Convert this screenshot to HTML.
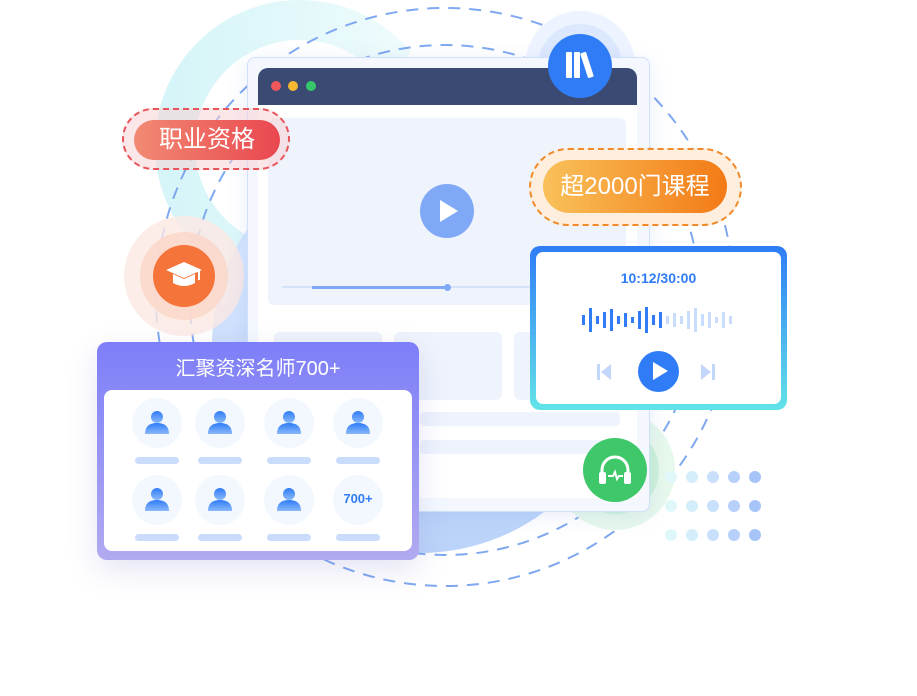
<!DOCTYPE html>
<html><head><meta charset="utf-8"><style>
body{margin:0;width:917px;height:696px;background:#fff;position:relative;overflow:hidden;font-family:"Liberation Sans","Noto Sans CJK SC",sans-serif}
.a{position:absolute}
.av{position:absolute;width:50px;height:50px;border-radius:50%;background:#f3f8ff}
.bar{position:absolute;width:44px;height:7px;border-radius:4px;background:#c9dcfb}
</style></head><body>
<svg class="a" style="left:0;top:0" width="917" height="696">
<defs>
<linearGradient id="bg" x1="0" y1="0" x2="0" y2="1"><stop offset="0" stop-color="#d9e8ff"/><stop offset="1" stop-color="#a9c8f8"/></linearGradient>
<linearGradient id="cy" x1="0" y1="0" x2="1" y2="0"><stop offset="0" stop-color="#d6f5f8"/><stop offset="1" stop-color="#eefbfc"/></linearGradient>
</defs>
<path d="M237 253 A125 125 0 1 1 396 65" stroke="url(#cy)" stroke-width="40" fill="none"/>
<circle cx="420" cy="345" r="208" fill="url(#bg)" opacity=".8"/>
<circle cx="445" cy="297" r="289" fill="none" stroke="#7fa8f0" stroke-width="2" stroke-dasharray="12 9"/>
<circle cx="445" cy="300" r="255" fill="none" stroke="#7fa8f0" stroke-width="2" stroke-dasharray="12 9"/>
<circle cx="184" cy="276" r="60" fill="#fde9e3" opacity=".8"/>
<circle cx="184" cy="276" r="44" fill="#fbd6c8" opacity=".8"/>
<circle cx="580" cy="66" r="55" fill="#eef4ff"/>
<circle cx="580" cy="66" r="42" fill="#dce8fe"/>
<circle cx="615" cy="470" r="60" fill="#e7f8ec"/>
<circle cx="615" cy="470" r="44" fill="#cdf1d8"/>
</svg>
<div class="a" style="left:247px;top:57px;width:401px;height:453px;background:#f4f8fe;border:1px solid #cfe0fa;border-radius:8px;box-shadow:0 4px 20px rgba(100,140,220,.15)"></div>
<div class="a" style="left:258px;top:68px;width:379px;height:430px;background:#fff;border-radius:10px 10px 0 0"></div>
<div class="a" style="left:258px;top:68px;width:379px;height:37px;background:#3a4a72;border-radius:10px 10px 0 0"></div>
<div class="a" style="left:271px;top:81px;width:10px;height:10px;border-radius:50%;background:#f0575a"></div>
<div class="a" style="left:288px;top:81px;width:10px;height:10px;border-radius:50%;background:#f5b830"></div>
<div class="a" style="left:306px;top:81px;width:10px;height:10px;border-radius:50%;background:#36c76b"></div>
<div class="a" style="left:268px;top:118px;width:358px;height:187px;background:#eef3fc;border-radius:6px"></div>
<div class="a" style="left:420px;top:184px;width:54px;height:54px;border-radius:50%;background:#7fa9f6"></div>
<div class="a" style="left:440px;top:200px;width:0;height:0;border-left:18px solid #fff;border-top:11px solid transparent;border-bottom:11px solid transparent"></div>
<div class="a" style="left:282px;top:286px;width:248px;height:2px;background:#d4e2fa"></div>
<div class="a" style="left:312px;top:286px;width:135px;height:3px;background:#7fa9f6"></div>
<div class="a" style="left:444px;top:284px;width:7px;height:7px;border-radius:50%;background:#7fa9f6"></div>
<div class="a" style="left:274px;top:332px;width:108px;height:68px;background:#eef3fc;border-radius:6px"></div>
<div class="a" style="left:394px;top:332px;width:108px;height:68px;background:#eef3fc;border-radius:6px"></div>
<div class="a" style="left:514px;top:332px;width:30px;height:68px;background:#eef3fc;border-radius:6px"></div>
<div class="a" style="left:420px;top:412px;width:200px;height:14px;background:#eef3fc;border-radius:4px"></div>
<div class="a" style="left:420px;top:440px;width:200px;height:14px;background:#eef3fc;border-radius:4px"></div>
<div class="a" style="left:122px;top:108px;width:168px;height:62px;border:2px dashed #e9545a;border-radius:32px;background:rgba(248,210,214,.55);box-sizing:border-box"></div>
<div class="a" style="left:134px;top:120px;width:146px;height:40px;border-radius:20px;background:linear-gradient(90deg,#f28a73,#e9474f);color:#fff;font-size:24px;line-height:40px;text-align:center">职业资格</div>
<div class="a" style="left:529px;top:148px;width:213px;height:78px;border:2px dashed #f08a2a;border-radius:40px;background:#fdeedd;box-sizing:border-box"></div>
<div class="a" style="left:543px;top:160px;width:184px;height:53px;border-radius:27px;background:linear-gradient(90deg,#f9c15a,#f37a16);color:#fff;font-size:24px;line-height:53px;text-align:center">超2000门课程</div>
<div class="a" style="left:548px;top:34px;width:64px;height:64px;border-radius:50%;background:#2f7cf6"></div>
<div class="a" style="left:566px;top:52px;width:6px;height:26px;background:#fff;border-radius:1px"></div>
<div class="a" style="left:574px;top:52px;width:6px;height:26px;background:#fff;border-radius:1px"></div>
<div class="a" style="left:584px;top:52px;width:6px;height:26px;background:#fff;border-radius:1px;transform:rotate(-18deg)"></div>
<div class="a" style="left:153px;top:245px;width:62px;height:62px;border-radius:50%;background:#f5743a"></div>
<svg class="a" style="left:164px;top:258px" width="40" height="34"><polygon points="20,4 38,12 20,20 2,12" fill="#fff"/><path d="M9 16 v9 q11 6 22 0 v-9 l-11 5z" fill="#fff"/><line x1="35" y1="12" x2="35" y2="22" stroke="#fff" stroke-width="2"/></svg>
<div class="a" style="left:583px;top:438px;width:64px;height:64px;border-radius:50%;background:#3ec86a"></div>
<svg class="a" style="left:596px;top:452px" width="38" height="36"><path d="M6 24 v-6 a13 13 0 0 1 26 0 v6" stroke="#fff" stroke-width="3" fill="none"/><rect x="3" y="20" width="7" height="12" rx="2" fill="#fff"/><rect x="28" y="20" width="7" height="12" rx="2" fill="#fff"/><path d="M12 24 h5 l2-4 l2 7 l2-3 h4" stroke="#fff" stroke-width="2" fill="none"/></svg>
<div class="a" style="left:97px;top:342px;width:322px;height:218px;border-radius:10px;background:linear-gradient(180deg,#7d7ef9,#b1aaf0);box-shadow:0 10px 30px rgba(120,120,200,.2)"></div>
<div class="a" style="left:97px;top:352px;width:322px;color:#fff;font-size:20px;text-align:center">汇聚资深名师700+</div>
<div class="a" style="left:104px;top:390px;width:308px;height:161px;border-radius:8px;background:#fff"></div>
<div id="t"></div>
<div class="a" style="left:530px;top:246px;width:257px;height:164px;border-radius:10px;background:linear-gradient(180deg,#2f7cf6,#62e3e8)"></div>
<div class="a" style="left:536px;top:252px;width:245px;height:152px;border-radius:7px;background:#fff"></div>
<div class="a" style="left:530px;top:270px;width:257px;text-align:center;color:#2f7cf6;font-weight:bold;font-size:14px">10:12/30:00</div>
<svg class="a" style="left:580px;top:305px" width="160" height="30" id="w"></svg>
<svg class="a" style="left:595px;top:362px" width="130" height="20"><rect x="2" y="2" width="3" height="16" fill="#c3d7fb"/><polygon points="16,2 6,10 16,18" fill="#c3d7fb"/><polygon points="106,2 116,10 106,18" fill="#c3d7fb"/><rect x="117" y="2" width="3" height="16" fill="#c3d7fb"/></svg>
<div class="a" style="left:638px;top:351px;width:41px;height:41px;border-radius:50%;background:#2f7cf6"></div>
<div class="a" style="left:653px;top:362px;width:0;height:0;border-left:15px solid #fff;border-top:9px solid transparent;border-bottom:9px solid transparent"></div>
<div id="d"></div>
<script>
var t='',xs=[157,220,289,358],ys=[423,500];
ys.forEach(function(y,r){xs.forEach(function(x,c){t+='<div class="av" style="left:'+(x-25)+'px;top:'+(y-25)+'px"></div>';
if(r==1&&c==3)t+='<div class="a" style="left:'+(x-25)+'px;top:'+(y-9)+'px;width:50px;text-align:center;color:#2f7cf6;font-weight:bold;font-size:13px">700+</div>';
else t+='<svg class="a" style="left:'+(x-12)+'px;top:'+(y-13)+'px" width="24" height="26"><defs><linearGradient id="g" x1="0" y1="0" x2="0" y2="1"><stop offset="0" stop-color="#2f7cf6"/><stop offset="1" stop-color="#8ab8fb"/></linearGradient></defs><circle cx="12" cy="7" r="6" fill="url(#g)"/><path d="M0 24 q0-11 12-11 q12 0 12 11z" fill="url(#g)"/></svg>';
t+='<div class="bar" style="left:'+(x-22)+'px;top:'+(y+34)+'px"></div>';});});
document.getElementById('t').outerHTML=t;
var h=[10,24,8,16,22,8,14,6,18,26,10,16,8,14,8,18,24,12,16,6,16,8],s='';
h.forEach(function(v,i){s+='<rect x="'+(2+i*7)+'" y="'+(15-v/2)+'" width="3" height="'+v+'" fill="'+(i<12?'#2f7cf6':'#c9dcfb')+'"/>';});
document.getElementById('w').innerHTML=s;
var d='',cols=['#dff7f9','#d4edfa','#c8e0fb','#b6d0fa','#a6c4f8'];
[477,506,535].forEach(function(y){for(var i=0;i<5;i++)d+='<div class="a" style="left:'+(665+i*21)+'px;top:'+(y-6)+'px;width:12px;height:12px;border-radius:50%;background:'+cols[i]+'"></div>';});
document.getElementById('d').outerHTML=d;
</script>
</body></html>
